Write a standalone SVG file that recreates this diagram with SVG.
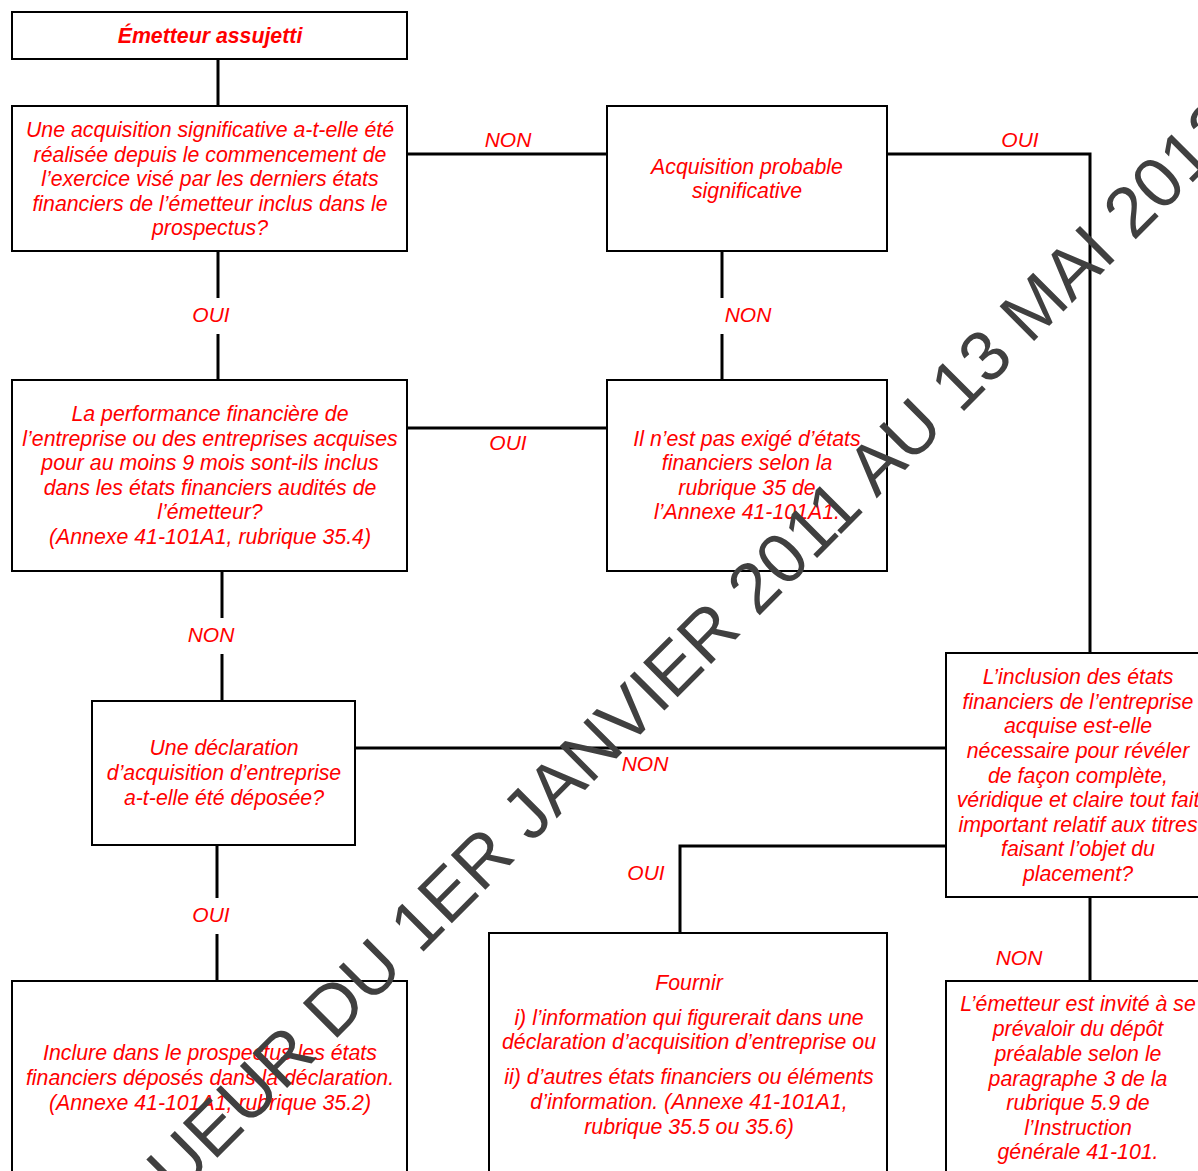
<svg xmlns="http://www.w3.org/2000/svg" width="1198" height="1171" viewBox="0 0 1198 1171">
<style>
.box{fill:#fff;stroke:#000;stroke-width:2}
.t{font-family:"Liberation Sans",Arial,sans-serif;font-style:italic;font-size:21.3px;fill:#ff0000;text-anchor:middle}
.b{font-weight:bold}
.lbl{font-family:"Liberation Sans",Arial,sans-serif;font-style:italic;font-size:21px;fill:#ff0000;text-anchor:middle}
.c{fill:none;stroke:#000;stroke-width:3}
.wm{font-family:"Liberation Sans",Arial,sans-serif;font-size:71px;fill:#404040}
</style>
<rect width="1198" height="1171" fill="#fff"/>
<g id="connectors">
<path class="c" d="M218 59V106"/>
<path class="c" d="M407 154H607"/>
<path class="c" d="M887 154H1090V653"/>
<path class="c" d="M722 251V380"/>
<path class="c" d="M218 251V380"/>
<path class="c" d="M407 428H607"/>
<path class="c" d="M222 571V701"/>
<path class="c" d="M355 748H946"/>
<path class="c" d="M217 845V981"/>
<path class="c" d="M946 846H680V933"/>
<path class="c" d="M1090 897V981"/>
<rect x="190" y="298" width="42" height="36" fill="#fff"/>
<rect x="718" y="298" width="58" height="36" fill="#fff"/>
<rect x="184" y="618" width="54" height="36" fill="#fff"/>
<rect x="190" y="898" width="42" height="36" fill="#fff"/>
<text class="lbl" x="508" y="147">NON</text>
<text class="lbl" x="1020" y="147">OUI</text>
<text class="lbl" x="211" y="322">OUI</text>
<text class="lbl" x="748" y="322">NON</text>
<text class="lbl" x="508" y="450">OUI</text>
<text class="lbl" x="211" y="642">NON</text>
<text class="lbl" x="645" y="771">NON</text>
<text class="lbl" x="646" y="880">OUI</text>
<text class="lbl" x="211" y="922">OUI</text>
<text class="lbl" x="1019" y="965">NON</text>
</g>
<g id="n1">
<rect class="box" x="12" y="12" width="395" height="47"/>
<text class="t b" x="210" y="43">Émetteur assujetti</text>
</g>
<g id="n2">
<rect class="box" x="12" y="106" width="395" height="145"/>
<text class="t" x="210" y="137">Une acquisition significative a-t-elle été</text>
<text class="t" x="210" y="162">réalisée depuis le commencement de</text>
<text class="t" x="210" y="186">l’exercice visé par les derniers états</text>
<text class="t" x="210" y="211">financiers de l’émetteur inclus dans le</text>
<text class="t" x="210" y="235">prospectus?</text>
</g>
<g id="n3">
<rect class="box" x="607" y="106" width="280" height="145"/>
<text class="t" x="747" y="174">Acquisition probable</text>
<text class="t" x="747" y="198">significative</text>
</g>
<g id="n4">
<rect class="box" x="12" y="380" width="395" height="191"/>
<text class="t" x="210" y="421">La performance financière de</text>
<text class="t" x="210" y="446">l’entreprise ou des entreprises acquises</text>
<text class="t" x="210" y="470">pour au moins 9 mois sont-ils inclus</text>
<text class="t" x="210" y="495">dans les états financiers audités de</text>
<text class="t" x="210" y="519">l’émetteur?</text>
<text class="t" x="210" y="544">(Annexe 41-101A1, rubrique 35.4)</text>
</g>
<g id="n5">
<rect class="box" x="607" y="380" width="280" height="191"/>
<text class="t" x="747" y="446">Il n’est pas exigé d’états</text>
<text class="t" x="747" y="470">financiers selon la</text>
<text class="t" x="747" y="495">rubrique 35 de</text>
<text class="t" x="747" y="519">l’Annexe 41-101A1.</text>
</g>
<g id="n6">
<rect class="box" x="92" y="701" width="263" height="144"/>
<text class="t" x="224" y="755">Une déclaration</text>
<text class="t" x="224" y="780">d’acquisition d’entreprise</text>
<text class="t" x="224" y="805">a-t-elle été déposée?</text>
</g>
<g id="n7">
<rect class="box" x="946" y="653" width="270" height="244"/>
<text class="t" x="1078" y="684">L’inclusion des états</text>
<text class="t" x="1078" y="709">financiers de l’entreprise</text>
<text class="t" x="1078" y="733">acquise est-elle</text>
<text class="t" x="1078" y="758">nécessaire pour révéler</text>
<text class="t" x="1078" y="783">de façon complète,</text>
<text class="t" x="1078" y="807">véridique et claire tout fait</text>
<text class="t" x="1078" y="832">important relatif aux titres</text>
<text class="t" x="1078" y="856">faisant l’objet du</text>
<text class="t" x="1078" y="881">placement?</text>
</g>
<g id="n8">
<rect class="box" x="12" y="981" width="395" height="200"/>
<text class="t" x="210" y="1060">Inclure dans le prospectus les états</text>
<text class="t" x="210" y="1085">financiers déposés dans la déclaration.</text>
<text class="t" x="210" y="1110">(Annexe 41-101A1, rubrique 35.2)</text>
</g>
<g id="n9">
<rect class="box" x="489" y="933" width="398" height="248"/>
<text class="t" x="689" y="990">Fournir</text>
<text class="t" x="689" y="1025">i) l’information qui figurerait dans une</text>
<text class="t" x="689" y="1049">déclaration d’acquisition d’entreprise ou</text>
<text class="t" x="689" y="1084">ii) d’autres états financiers ou éléments</text>
<text class="t" x="689" y="1109">d’information. (Annexe 41-101A1,</text>
<text class="t" x="689" y="1134">rubrique 35.5 ou 35.6)</text>
</g>
<g id="n10">
<rect class="box" x="946" y="981" width="270" height="200"/>
<text class="t" x="1078" y="1011">L’émetteur est invité à se</text>
<text class="t" x="1078" y="1036">prévaloir du dépôt</text>
<text class="t" x="1078" y="1061">préalable selon le</text>
<text class="t" x="1078" y="1086">paragraphe 3 de la</text>
<text class="t" x="1078" y="1110">rubrique 5.9 de</text>
<text class="t" x="1078" y="1135">l’Instruction</text>
<text class="t" x="1078" y="1159">générale 41-101.</text>
</g>
<text class="wm" x="6.9" y="1368.1" transform="rotate(-45 6.9 1368.1)">EN VIGUEUR DU 1ER JANVIER 2011 AU 13 MAI 2012</text>
</svg>
